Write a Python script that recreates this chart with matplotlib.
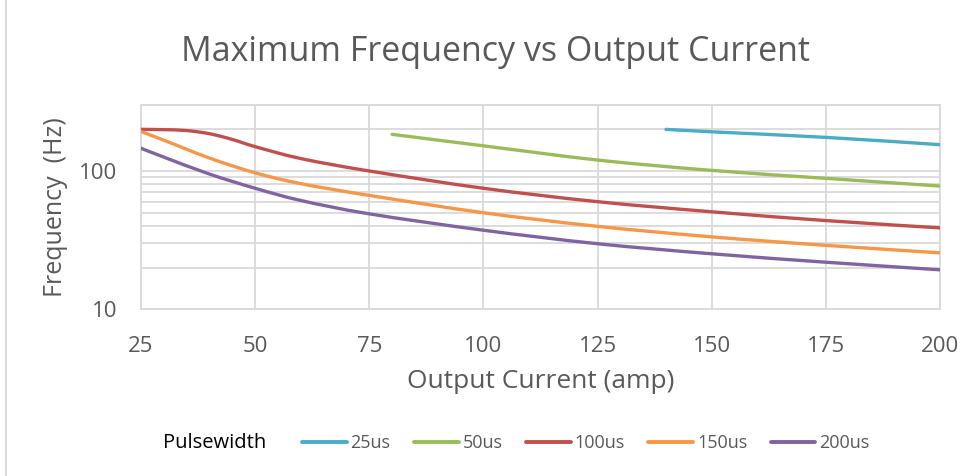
import numpy as np
import matplotlib
matplotlib.use("Agg")
import matplotlib.pyplot as plt
from matplotlib.path import Path
from matplotlib.patches import PathPatch
from matplotlib.lines import Line2D
from matplotlib.ticker import FixedLocator, NullFormatter, FixedFormatter

# ---------------- data ----------------
series_names = ["25us", "50us", "100us", "150us", "200us"]
x_25us = [140, 150, 175, 200]
y_25us = [200, 192, 175, 155]
x_50us = [80, 100, 125, 150, 175, 200]
y_50us = [184, 152, 120, 101, 88.5, 77.8]
x_100us = [25, 30, 35, 40, 45, 50, 60, 75, 100, 125, 150, 175, 200]
y_100us = [200, 199, 196, 186, 169, 150, 123, 100, 75, 60, 50.7, 43.8, 38.8]
x_150us = [25, 30, 40, 50, 60, 75, 100, 125, 150, 175, 200]
y_150us = [193, 167, 124, 97, 81, 66.6, 49.9, 39.8, 33.4, 29, 25.6]
x_200us = [25, 30, 40, 50, 60, 75, 100, 125, 150, 175, 200]
y_200us = [146, 126, 95, 75, 61.2, 49, 37.3, 29.8, 25.2, 21.9, 19.3]
colors = ["#4BACC6", "#9BBB59", "#C0504D", "#F79646", "#8064A2"]
x_ticks = [25, 50, 75, 100, 125, 150, 175, 200]
y_major = [10, 100]
y_minor = [20, 30, 40, 50, 60, 70, 80, 90, 200, 300]

xs = [x_25us, x_50us, x_100us, x_150us, x_200us]
ys = [y_25us, y_50us, y_100us, y_150us, y_200us]

GRAY = "#595959"
GRID = "#D9D9D9"
FONT = ["Open Sans", "DejaVu Sans"]

fig = plt.figure(figsize=(9.73, 4.76), dpi=100)
ax = fig.add_axes([141/973, 1-309.3/476, 799/973, (309.3-105)/476])
ax.set_yscale("log")
ax.set_xlim(25, 200)
ax.set_ylim(10, 300)


def smooth_path(x, y):
    """Excel-like smooth line: cubic Bezier through points in (x, log y)."""
    px = np.asarray(x, float)
    py = np.log10(np.asarray(y, float))
    n = len(px)
    verts = [(px[0], py[0])]
    codes = [Path.MOVETO]
    for i in range(n - 1):
        p0 = (px[max(i-1, 0)], py[max(i-1, 0)])
        p1 = (px[i], py[i])
        p2 = (px[i+1], py[i+1])
        p3 = (px[min(i+2, n-1)], py[min(i+2, n-1)])
        c1 = (p1[0] + (p2[0]-p0[0])/6, p1[1] + (p2[1]-p0[1])/6)
        c2 = (p2[0] - (p3[0]-p1[0])/6, p2[1] - (p3[1]-p1[1])/6)
        verts += [c1, c2, p2]
        codes += [Path.CURVE4]*3
    verts = [(vx, 10**vy) for vx, vy in verts]
    return Path(verts, codes)


handles = []
for x, y, c, name in zip(xs, ys, colors, series_names):
    patch = PathPatch(smooth_path(x, y), fill=False, edgecolor=c, lw=2.4,
                      capstyle="round", joinstyle="round", zorder=3)
    ax.add_patch(patch)
    handles.append(Line2D([], [], color=c, lw=2.8, solid_capstyle="round"))

# grid and ticks
ax.xaxis.set_major_locator(FixedLocator(x_ticks))
ax.yaxis.set_major_locator(FixedLocator(y_major))
ax.yaxis.set_major_formatter(FixedFormatter([str(v) for v in y_major]))
ax.yaxis.set_minor_locator(FixedLocator(y_minor))
ax.yaxis.set_minor_formatter(NullFormatter())
ax.grid(True, which="both", axis="y", color=GRID, lw=1.3, zorder=0)
ax.grid(True, which="major", axis="x", color=GRID, lw=1.3, zorder=0)
ax.set_axisbelow(True)
ax.tick_params(which="both", length=0, labelcolor=GRAY, labelsize=16)
ax.tick_params(axis="x", pad=19)
ax.tick_params(axis="y", pad=17)
for lab in ax.get_xticklabels() + ax.get_yticklabels():
    lab.set_family(FONT)
for s in ax.spines.values():
    s.set_color(GRID)
    s.set_linewidth(1.3)

ax.set_xlabel("Output Current (amp)", color=GRAY, fontsize=19, family=FONT, labelpad=9)
ax.set_ylabel("Frequency  (Hz)", color=GRAY, fontsize=18, family=FONT, labelpad=8)

fig.text(495/973, 1-52/476, "Maximum Frequency vs Output Current", ha="center",
         va="center", color=GRAY, fontsize=24.5, family=FONT)

fig.text(163/973, 1-443/476, "Pulsewidth", ha="left", va="center",
         color="black", fontsize=14.5, family=FONT)
leg = fig.legend(handles, series_names, loc="center left",
                 bbox_to_anchor=(302/973, 1-443/476), ncol=5, frameon=False,
                 borderaxespad=0, borderpad=0,
                 handlelength=2.47, handletextpad=0.22, columnspacing=1.3,
                 prop={"family": FONT, "size": 13})
for t in leg.get_texts():
    t.set_color(GRAY)

# chart border (left edge)
fig.add_artist(Line2D([6/973, 6/973], [0, 1], color=GRID, lw=1.3,
                      transform=fig.transFigure))

fig.savefig("out.png", dpi=100)
